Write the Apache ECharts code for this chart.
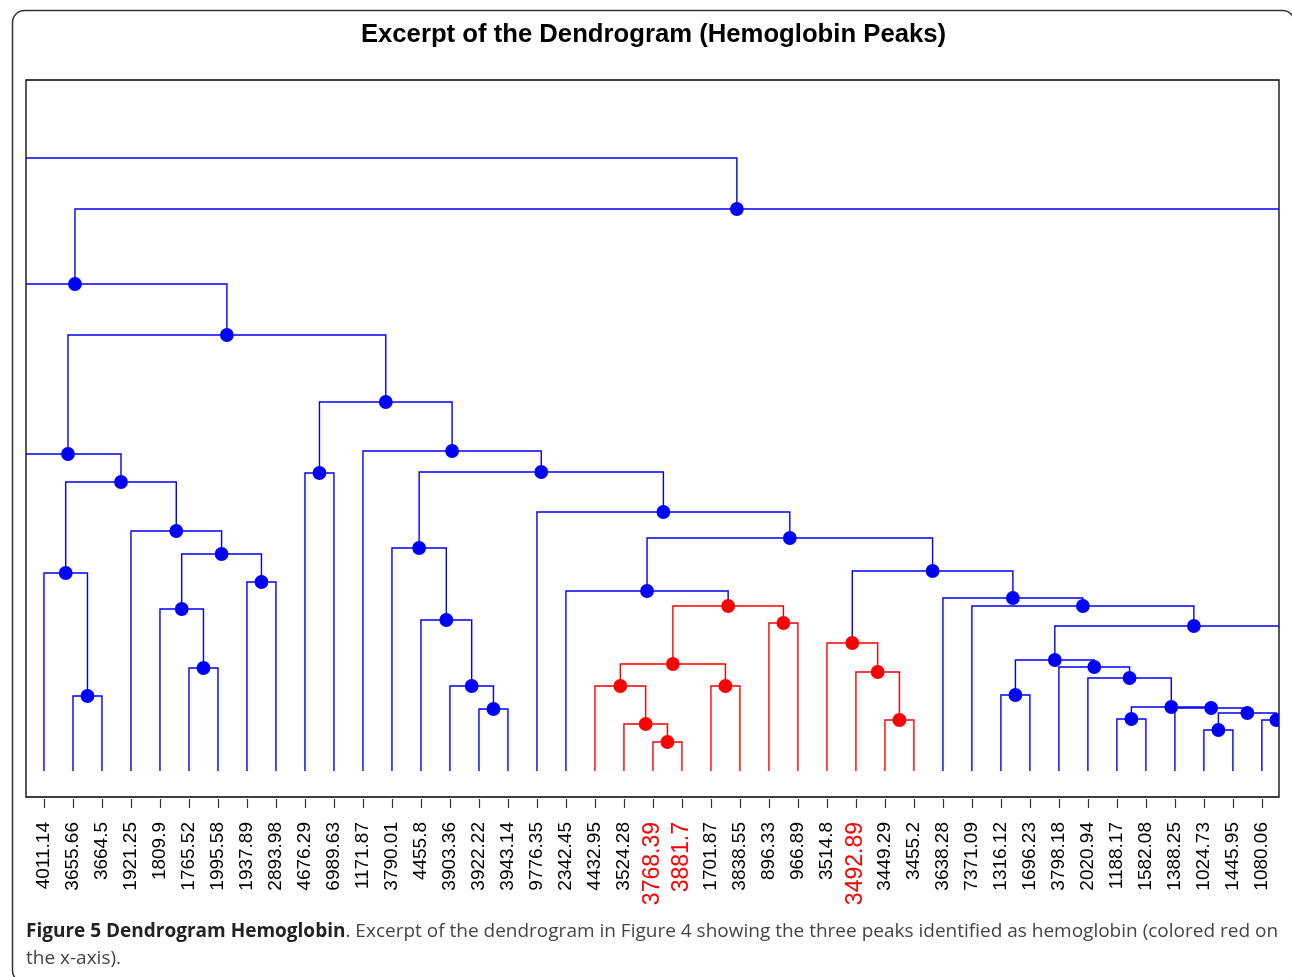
<!DOCTYPE html>
<html>
<head>
<meta charset="utf-8">
<title>Excerpt of the Dendrogram (Hemoglobin Peaks)</title>
<script src="https://cdn.jsdelivr.net/npm/echarts@6/dist/echarts.min.js"></script>
<style>
  html, body { margin: 0; padding: 0; background: #fff; }
  #main { width: 1292px; height: 977px; }
</style>
</head>
<body>
<div id="main"></div>
<script>
// leaf order of the excerpt (peak masses)
const leafLabels = [
  '4011.14', '3655.66', '3664.5', '1921.25', '1809.9', '1765.52', '1995.58', '1937.89',
  '2893.98', '4676.29', '6989.63', '1171.87', '3790.01', '4455.8', '3903.36', '3922.22',
  '3943.14', '9776.35', '2342.45', '4432.95', '3524.28', '3768.39', '3881.7', '1701.87',
  '3838.55', '896.33', '966.89', '3514.8', '3492.89', '3449.29', '3455.2', '3638.28',
  '7371.09', '1316.12', '1696.23', '3798.18', '2020.94', '1188.17', '1582.08', '1388.25',
  '1024.73', '1445.95', '1080.06'
];

// peaks identified as hemoglobin
const hemoglobinPeaks = ['3768.39', '3881.7', '3492.89'];

// parts of the full tree lying outside the excerpt: [leaf position, height]
const outsideParts = {
  out1: [-1, 0],
  out2: [43, 0],
  out3: [44.45, 1.2],
  out4: [-4.17, 3.9],
  out5: [46.72, 4.6],
  out6: [-30, 5.3]
};

// merges: [id, left child, right child, height]  (numbers are leaf indices)
const merges = [
  ['A', 1, 2, 0.75],
  ['B', 0, 'A', 1.98],
  ['C', 5, 6, 1.03],
  ['D', 4, 'C', 1.62],
  ['E', 7, 8, 1.89],
  ['F', 'D', 'E', 2.17],
  ['G', 3, 'F', 2.40],
  ['H', 'B', 'G', 2.89],
  ['I', 'out1', 'H', 3.17],
  ['O', 9, 10, 2.98],
  ['V', 15, 16, 0.62],
  ['U', 14, 'V', 0.85],
  ['T', 13, 'U', 1.51],
  ['R', 12, 'T', 2.23],
  ['AF', 21, 22, 0.29],
  ['AE', 20, 'AF', 0.47],
  ['AC', 19, 'AE', 0.85],
  ['AD', 23, 24, 0.85],
  ['AA', 'AC', 'AD', 1.07],
  ['AB', 25, 26, 1.48],
  ['Z', 'AA', 'AB', 1.65],
  ['X', 18, 'Z', 1.80],
  ['AJ', 29, 30, 0.51],
  ['AI', 28, 'AJ', 0.99],
  ['AG', 27, 'AI', 1.28],
  ['AN', 33, 34, 0.76],
  ['AR', 37, 38, 0.52],
  ['AU', 40, 41, 0.41],
  ['AV', 42, 'out2', 0.51],
  ['AT', 'AU', 'AV', 0.58],
  ['AS', 39, 'AT', 0.63],
  ['AQ', 'AR', 'AS', 0.64],
  ['AP', 36, 'AQ', 0.93],
  ['AO', 35, 'AP', 1.04],
  ['AM', 'AN', 'AO', 1.11],
  ['AL', 'AM', 'out3', 1.45],
  ['AK', 32, 'AL', 1.65],
  ['AH', 31, 'AK', 1.73],
  ['Y', 'AG', 'AH', 2.00],
  ['W', 'X', 'Y', 2.33],
  ['S', 17, 'W', 2.59],
  ['Q', 'R', 'S', 2.99],
  ['P', 11, 'Q', 3.20],
  ['N', 'O', 'P', 3.69],
  ['K', 'I', 'N', 4.36],
  ['J', 'out4', 'K', 4.87],
  ['L', 'J', 'out5', 5.62],
  ['M', 'out6', 'L', 6.13]
];

// clusters holding the hemoglobin peaks
const hemoglobinClusters = ['Z', 'AG'];

const BLUE = '#0000ff';
const RED = '#ff0000';

// node positions: x = middle of the two children, y = merge height
const pos = {};
function nodeOf(ref) {
  if (typeof ref === 'number') return [ref, 0];
  if (outsideParts[ref]) return outsideParts[ref];
  return pos[ref];
}
merges.forEach(function (m) {
  const a = nodeOf(m[1]), b = nodeOf(m[2]);
  pos[m[0]] = [(a[0] + b[0]) / 2, m[3]];
});

// colour the hemoglobin subtrees
const redNodes = new Set(hemoglobinClusters);
for (let i = merges.length - 1; i >= 0; i--) {
  const m = merges[i];
  if (redNodes.has(m[0])) {
    if (typeof m[1] === 'string') redNodes.add(m[1]);
    if (typeof m[2] === 'string') redNodes.add(m[2]);
  }
}

const nodeData = merges.map(function (m) {
  const a = nodeOf(m[1]), b = nodeOf(m[2]);
  return [pos[m[0]][0], m[3], a[0], a[1], b[0], b[1], redNodes.has(m[0]) ? 1 : 0];
});

function renderLinks(params, api) {
  const h = api.value(1);
  const p1 = api.coord([api.value(2), api.value(3)]);
  const p2 = api.coord([api.value(2), h]);
  const p3 = api.coord([api.value(4), h]);
  const p4 = api.coord([api.value(4), api.value(5)]);
  return {
    type: 'polyline',
    shape: { points: [p1, p2, p3, p4] },
    style: { stroke: api.value(6) ? RED : BLUE, lineWidth: 1.4, fill: 'none' }
  };
}

function renderDots(params, api) {
  const c = api.coord([api.value(0), api.value(1)]);
  return {
    type: 'circle',
    shape: { cx: c[0], cy: c[1], r: 6.9 },
    style: { fill: api.value(6) ? RED : BLUE }
  };
}

const chart = echarts.init(document.getElementById('main'));

chart.setOption({
  backgroundColor: '#fff',
  animation: false,
  grid: [
    { left: 26, right: 13, top: 80, bottom: 180, show: true, borderColor: '#000', borderWidth: 1.3, backgroundColor: 'transparent' },
    { left: 29.5, right: 15.5, top: 790, bottom: 178 }
  ],
  xAxis: [
    { type: 'value', gridIndex: 0, min: -0.62, max: 42.59, show: false },
    {
      type: 'category', gridIndex: 1, data: leafLabels, boundaryGap: true,
      axisLine: { show: false },
      axisTick: { show: true, alignWithLabel: true, length: 9, lineStyle: { color: '#333', width: 1.2 } },
      axisLabel: {
        interval: 0, rotate: 90, margin: 23,
        formatter: function (v) {
          return hemoglobinPeaks.indexOf(v) >= 0 ? '{r|' + v + '}' : '{k|' + v + '}';
        },
        rich: {
          k: { fontSize: 19, color: '#000', fontFamily: 'Liberation Sans' },
          r: { fontSize: 23, color: RED, fontFamily: 'Liberation Sans' }
        }
      }
    }
  ],
  yAxis: [
    { type: 'value', gridIndex: 0, min: -0.26, max: 6.91, show: false },
    { type: 'value', gridIndex: 1, show: false }
  ],
  series: [
    {
      type: 'custom', xAxisIndex: 0, yAxisIndex: 0, clip: true,
      renderItem: renderLinks, data: nodeData, encode: { x: 0, y: 1 }, silent: true
    },
    {
      type: 'custom', xAxisIndex: 0, yAxisIndex: 0, clip: true,
      renderItem: renderDots, data: nodeData, encode: { x: 0, y: 1 }, silent: true
    }
  ],
  graphic: [
    {
      type: 'rect', left: 10, top: 8, z: -10,
      shape: { width: 1282, height: 972, r: 12 },
      style: { fill: 'none', stroke: '#333', lineWidth: 1.5 }
    },
    {
      type: 'text', x: 653.5, y: 35,
      style: {
        text: 'Excerpt of the Dendrogram (Hemoglobin Peaks)',
        font: 'bold 25.7px "Liberation Sans"', fill: '#000',
        align: 'center', verticalAlign: 'middle'
      }
    },
    {
      type: 'text', x: 26, y: 932,
      style: {
        text: '{b|Figure 5 Dendrogram Hemoglobin}{n|. Excerpt of the dendrogram in Figure 4 showing the three peaks identified as hemoglobin (colored red on}',
        verticalAlign: 'middle',
        rich: {
          b: { fontFamily: 'Open Sans', fontWeight: 'bold', fontSize: 19, fill: '#222' },
          n: { fontFamily: 'Open Sans', fontSize: 19, fill: '#444' }
        }
      }
    },
    {
      type: 'text', x: 26, y: 959,
      style: {
        text: 'the x-axis).',
        verticalAlign: 'middle',
        font: '19px "Open Sans"', fill: '#444'
      }
    }
  ]
});
</script>
</body>
</html>
